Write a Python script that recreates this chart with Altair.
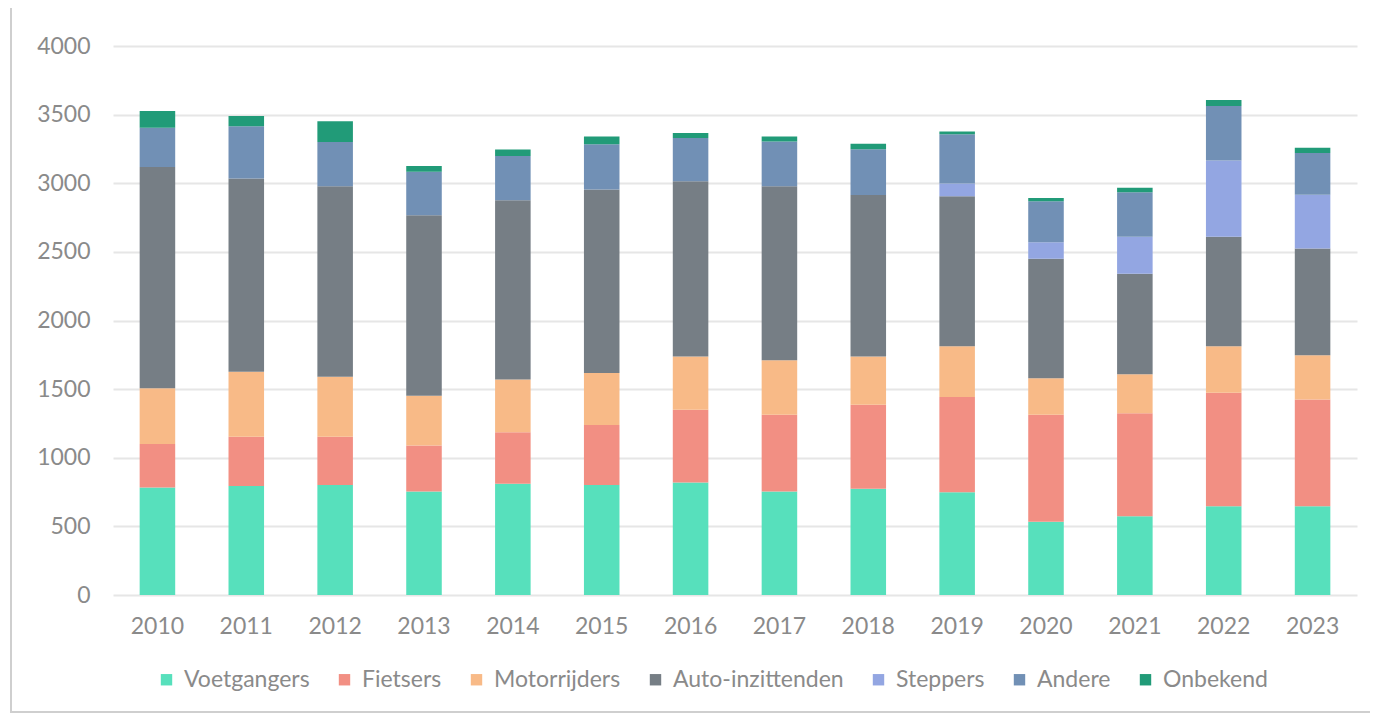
import altair as alt
import pandas as pd

years = ["2010", "2011", "2012", "2013", "2014", "2015", "2016",
         "2017", "2018", "2019", "2020", "2021", "2022", "2023"]
categories = ["Voetgangers", "Fietsers", "Motorrijders", "Auto-inzittenden",
              "Steppers", "Andere", "Onbekend"]
colors = ["#57E0BC", "#F28F83", "#F8BA87", "#767E85", "#93A6E2", "#7190B5", "#219B78"]

voetgangers = [784, 794, 801, 755, 811, 801, 820, 755, 774, 748, 534, 573, 647, 647]
fietsers = [316, 359, 352, 335, 374, 437, 530, 558, 612, 694, 779, 752, 826, 777]
motorrijders = [407, 473, 437, 362, 386, 379, 388, 398, 352, 371, 267, 283, 339, 322]
auto_inzittenden = [1612, 1408, 1388, 1315, 1305, 1337, 1277, 1267, 1177, 1093, 869, 733, 799, 779]
steppers = [0, 0, 0, 0, 0, 0, 0, 0, 0, 92, 122, 270, 554, 391]
andere = [286, 381, 323, 316, 323, 330, 315, 326, 333, 359, 298, 323, 398, 305]
onbekend = [122, 75, 151, 43, 46, 56, 37, 36, 39, 20, 24, 34, 44, 37]

series = [voetgangers, fietsers, motorrijders, auto_inzittenden, steppers, andere, onbekend]

rows = []
for ci, (cat, vals) in enumerate(zip(categories, series)):
    for y, v in zip(years, vals):
        rows.append({"Jaar": y, "Categorie": cat, "Aantal": v, "volgorde": ci})
df = pd.DataFrame(rows)

FONT = "Lato"
TXT = "#8a8a8a"

bars = alt.Chart(df).mark_bar().encode(
    x=alt.X("Jaar:N", sort=years, title=None,
            scale=alt.Scale(paddingInner=0.6, paddingOuter=0.3),
            axis=alt.Axis(labelAngle=0, ticks=False, domain=False, grid=False,
                          labelFontSize=23, labelColor=TXT, labelFont=FONT,
                          labelPadding=20)),
    y=alt.Y("Aantal:Q", stack="zero", title=None,
            scale=alt.Scale(domain=[0, 4000], nice=False),
            axis=alt.Axis(values=list(range(0, 4001, 500)), format="d",
                          ticks=False, domain=False,
                          gridColor="#e6e6e6", gridWidth=1.8,
                          labelFontSize=23, labelColor=TXT, labelFont=FONT,
                          labelPadding=23)),
    color=alt.Color("Categorie:N", sort=categories,
                    scale=alt.Scale(domain=categories, range=colors),
                    legend=alt.Legend(title=None, orient="none", direction="horizontal",
                                      legendX=42, legendY=622, columns=7,
                                      symbolType="square", symbolSize=130,
                                      symbolStrokeWidth=0, columnPadding=23,
                                      labelFontSize=23, labelColor=TXT, labelFont=FONT,
                                      labelOffset=6, labelLimit=0)),
    order=alt.Order("volgorde:Q", sort="ascending"),
)

frame = alt.Chart(alt.Data(values=[{"a": 1}])).mark_rect(
    fillOpacity=0, stroke="#cfcfcf", strokeWidth=2
).encode(
    x=alt.value(-102), x2=alt.value(1280), y=alt.value(-40), y2=alt.value(666)
)

chart = alt.layer(frame, bars).properties(
    width=1244, height=549,
    background="white",
    autosize=alt.AutoSizeParams(type="none"),
    padding={"left": 105, "top": 38, "right": 13, "bottom": 118},
).configure_view(stroke="transparent", strokeWidth=0)

chart.save("out.html", embed_options={"renderer": "svg", "actions": False})
